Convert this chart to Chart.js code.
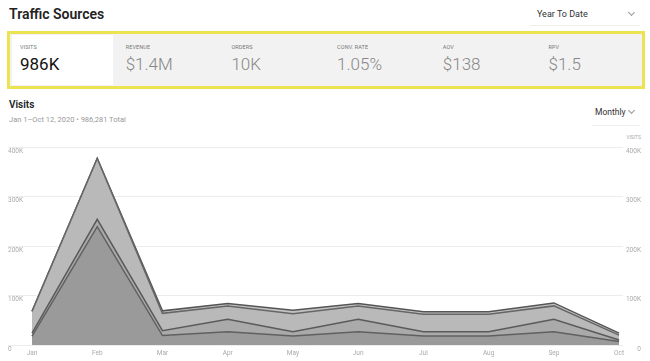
<!DOCTYPE html>
<html>
<head>
<meta charset="utf-8">
<script src="https://cdn.jsdelivr.net/npm/chart.js@4"></script>
<style>
  html, body { margin: 0; padding: 0; background: #fff; }
  body { width: 650px; height: 361px; position: relative; overflow: hidden; font-family: Roboto, "Noto Sans", sans-serif; color: #222; }
  .abs { position: absolute; white-space: nowrap; }
  .chev { position: absolute; width: 4px; height: 4px; border-right: 1px solid #999; border-bottom: 1px solid #999; transform: rotate(45deg); }
  .kpi { position: absolute; left: 7px; top: 31px; width: 638px; height: 58px; box-sizing: border-box; border: 3px solid #ede24f; background: #f2f2f2; }
  .cell { position: absolute; top: 1px; height: 50px; width: 101px; }
  .cell .lbl { position: absolute; left: 8px; top: 9px; font-size: 5.5px; color: #777; letter-spacing: 0.1px; }
  .cell .val { position: absolute; left: 8px; top: 19px; font-size: 17px; font-weight: 300; color: #888; }
  #wrap { position: absolute; left: 0; top: 130px; width: 650px; height: 231px; }
</style>
</head>
<body>
<div class="abs" style="left:9px;top:5px;font-size:14px;font-weight:600;line-height:18px;">Traffic Sources</div>
<div class="abs" style="left:537px;top:9px;font-size:9px;color:#333;line-height:11px;">Year To Date</div>
<div class="chev" style="left:629px;top:10px;"></div>
<div class="abs" style="left:530px;top:25px;width:110px;height:1px;background:#eee;"></div>

<div class="kpi" id="kpi"></div>

<div class="abs" style="left:9px;top:99px;font-size:10px;font-weight:600;line-height:12px;">Visits</div>
<div class="abs" style="left:9px;top:115px;font-size:7.5px;color:#999;line-height:10px;">Jan 1–Oct 12, 2020 • 986,281 Total</div>
<div class="abs" style="left:595px;top:107px;font-size:8.5px;color:#333;line-height:10px;">Monthly</div>
<div class="chev" style="left:629px;top:108px;"></div>
<div class="abs" style="left:592px;top:125px;width:48px;height:1px;background:#eee;"></div>
<div class="abs" style="right:9px;top:134px;font-size:5px;color:#aaa;line-height:6px;">VISITS</div>

<div id="wrap"><canvas id="visitsChart"></canvas></div>

<script>
// KPI strip
const kpiLabels = ['VISITS', 'REVENUE', 'ORDERS', 'CONV. RATE', 'AOV', 'RPV'];
const kpiValues = ['986K', '$1.4M', '10K', '1.05%', '$138', '$1.5'];

// monthly visits by segment, thousands, stacked from the bottom up
const months = ['Jan', 'Feb', 'Mar', 'Apr', 'May', 'Jun', 'Jul', 'Aug', 'Sep', 'Oct'];
const seg1 = [18, 239, 19, 27, 18, 27, 18, 18, 27, 7];
const seg2 = [6, 15, 10, 25, 9, 25, 9, 9, 25, 3];
const seg3 = [44, 123, 35, 27, 36, 27, 35, 35, 27, 10];
const seg4 = [0, 0, 5, 5, 7, 5, 5, 5, 6, 4];
const yTicks = [0, 100000, 200000, 300000, 400000];
const yTickLabels = ['0', '100K', '200K', '300K', '400K'];

const kpi = document.getElementById('kpi');
kpiLabels.forEach(function (lbl, i) {
    const cell = document.createElement('div');
    cell.className = 'cell';
    cell.style.left = (2 + i * 105.7) + 'px';
    if (i === 0) { cell.style.background = '#fff'; }
    cell.innerHTML = '<div class="lbl">' + lbl + '</div><div class="val"' +
        (i === 0 ? ' style="color:#111;font-weight:400"' : '') + '>' + kpiValues[i] + '</div>';
    kpi.appendChild(cell);
});

function pts(arr) {
    return arr.map(function (v, i) { return { x: i, y: v * 1000 }; });
}

const tickFont = { size: 6.5, family: 'Roboto' };
const tickColor = '#aaa';

function setYTicks(scale) {
    scale.ticks = yTicks.map(function (v) { return { value: v }; });
}

new Chart(document.getElementById('visitsChart').getContext('2d'), {
    type: 'line',
    data: {
        datasets: [
            { data: pts(seg1), fill: 'origin', backgroundColor: '#9a9a9a', borderColor: '#606060' },
            { data: pts(seg2), fill: '-1', backgroundColor: '#aaaaaa', borderColor: '#5a5a5a' },
            { data: pts(seg3), fill: '-1', backgroundColor: '#b9b9b9', borderColor: '#666666' },
            { data: pts(seg4), fill: '-1', backgroundColor: '#c2c2c2', borderColor: '#555555' }
        ]
    },
    options: {
        responsive: true,
        maintainAspectRatio: false,
        animation: false,
        layout: { padding: { left: 8, right: 9, top: 17, bottom: 0 } },
        elements: {
            line: { tension: 0, borderWidth: 1.5 },
            point: { radius: 0 }
        },
        plugins: { legend: { display: false }, tooltip: { enabled: false } },
        scales: {
            x: {
                type: 'linear',
                min: -0.368,
                max: 9.06,
                grid: { display: false, drawTicks: false },
                border: { display: false },
                afterBuildTicks: function (s) { s.ticks = months.map(function (m, i) { return { value: i }; }); },
                afterFit: function (s) { s.height = 16; },
                ticks: {
                    autoSkip: false, maxRotation: 0, padding: 4,
                    font: tickFont, color: tickColor,
                    callback: function (v) { return months[v]; }
                }
            },
            y: {
                stacked: true,
                min: 0,
                max: 400000,
                grid: { color: '#ececec', drawTicks: false },
                border: { display: false },
                afterBuildTicks: setYTicks,
                afterFit: function (s) { s.width = 0; },
                ticks: {
                    mirror: true, padding: 0, labelOffset: 4,
                    font: tickFont, color: tickColor,
                    callback: function (v, i) { return yTickLabels[i]; }
                }
            },
            y2: {
                position: 'right',
                min: 0,
                max: 400000,
                grid: { drawOnChartArea: false, drawTicks: false },
                border: { display: false },
                afterBuildTicks: setYTicks,
                afterFit: function (s) { s.width = 18; },
                ticks: {
                    crossAlign: 'far', padding: 0, labelOffset: 4,
                    font: tickFont, color: tickColor,
                    callback: function (v, i) { return yTickLabels[i]; }
                }
            }
        }
    }
});
</script>
</body>
</html>
